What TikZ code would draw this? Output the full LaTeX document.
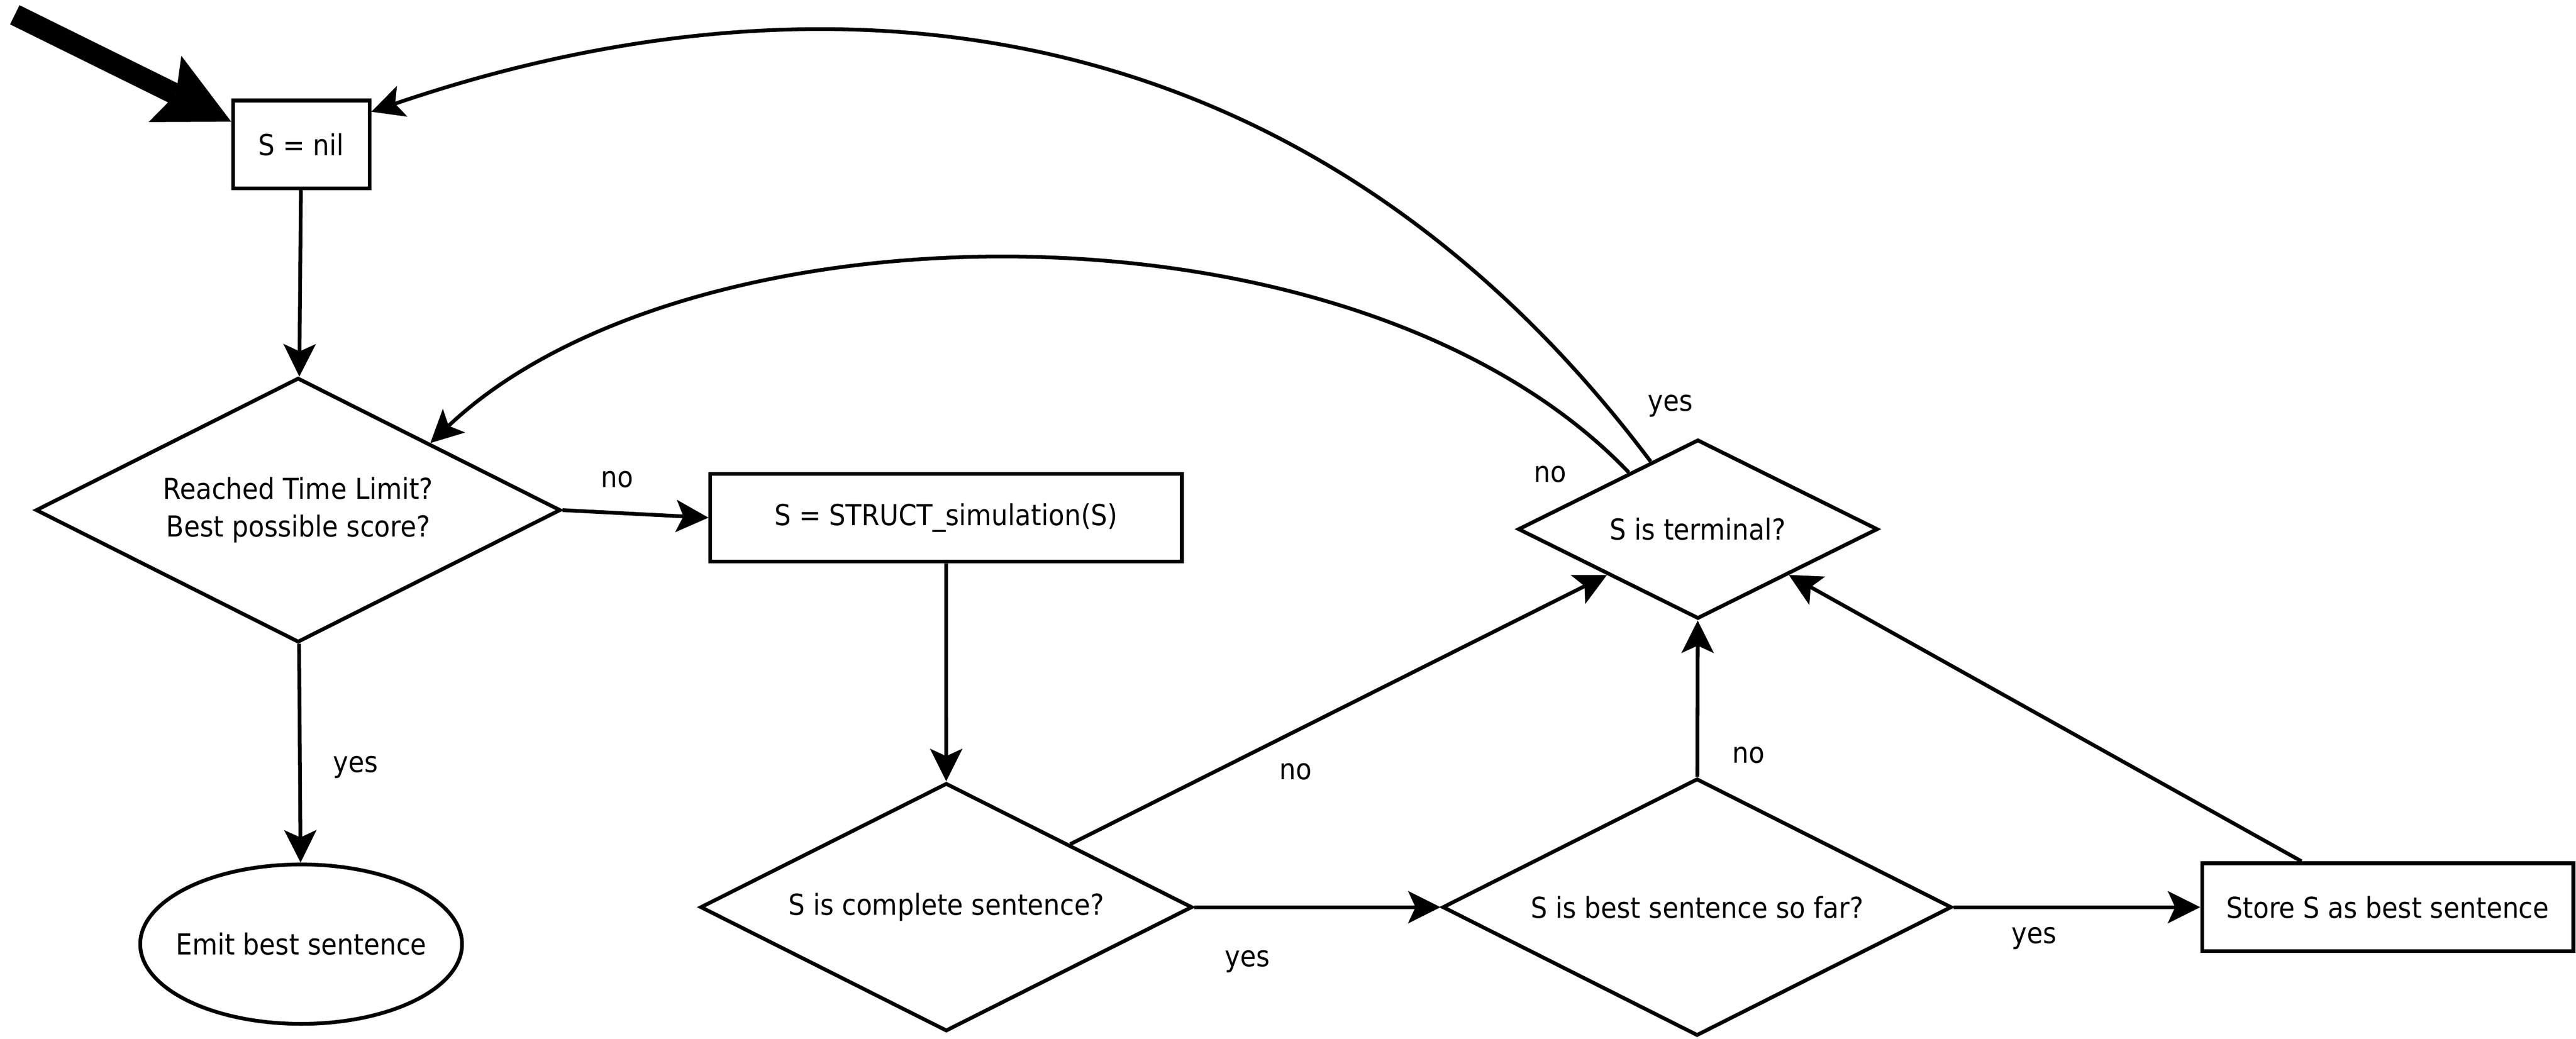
\documentclass[tikz,border=0pt]{standalone}
\usepackage{fontspec}
\setmainfont{DejaVu Sans Condensed}
\usetikzlibrary{shapes.geometric,arrows.meta,calc}

\tikzset{
  box/.style={draw, line width=1.3pt, rectangle, inner sep=0pt, minimum height=1.07cm},
  test/.style={draw, line width=1.3pt, diamond, aspect=2, inner sep=0pt, align=center},
  stop/.style={draw, line width=1.3pt, ellipse, inner xsep=-4pt, inner ysep=0pt},
  arr/.style={line width=1.3pt, -{Stealth[length=11.3pt,width=11.3pt,inset=2.6pt,line width=0pt]}},
  bigarr/.style={line width=7.4pt, -{Stealth[length=0.9cm,width=0.9cm,inset=0.15cm,line width=0pt]}},
}

\begin{document}
\begin{tikzpicture}[x=0.2mm,y=-0.2mm]
            \useasboundingbox (0,0) rectangle (1568,632);
            \node[box, minimum width=1.66cm] (nil) at (183.4,87.9) {S = nil};
            \node[test, minimum width=6.39cm, minimum height=3.22cm] (limit) at (181.5,310.4) {Reached Time Limit?\\[1pt]Best possible score?};
            \node[stop, minimum width=3.86cm, minimum height=1.94cm] (emit) at (183.3,574.5) {Emit best sentence};
            \node[box, minimum width=5.74cm] (sim) at (575.9,315) {S = STRUCT\_simulation(S)};
            \node[test, minimum width=5.99cm, minimum height=3.02cm] (complete) at (576,552) {S is complete sentence?};
            \node[test, minimum width=6.20cm, minimum height=3.13cm] (best) at (1033,552) {S is best sentence so far?};
            \node[box, minimum width=4.52cm] (store) at (1453.4,552) {Store S as best sentence};
            \node[test, minimum width=4.38cm, minimum height=2.18cm] (term) at (1033.5,322) {S is terminal?};
            % entry
            \coordinate (entry) at (9,9);
            \draw[bigarr] (entry) -- (nil.162);
            \draw[arr] (nil) -- (limit);
            \draw[arr] (limit.east) -- (sim.west);
            \draw[arr] (limit) -- (emit);
            \draw[arr] (sim) -- (complete);
            \draw[arr] (complete.east) -- (best.west);
            \draw[arr] (best.east) -- (store.west);
            \draw[arr] (best) -- (term);
            \draw[arr] (complete.north east) -- (term.south west);
            \draw[arr] (store.152) -- (term.south east);
            % loops back
            \coordinate (yesout) at ($(term.west)!0.74!(term.north)$);
            \coordinate (noout) at ($(term.west)!0.62!(term.north)$);
            \draw[arr] (yesout) .. controls (794,1) and (502,-26) .. (nil.25);
            \draw[arr] (noout) .. controls (825.6,114.2) and (420.3,120.2) .. (limit.north east);
            % labels
            \node (lno1) at (375.8,291.6) {no};
            \node (lyes1) at (216.4,466.8) {yes};
            \node (lyes2) at (759.3,585) {yes};
            \node (lyes3) at (1238,571) {yes};
            \node (lno2) at (788.8,469.6) {no};
            \node (lno3) at (1064.2,459.6) {no};
            \node (lyes4) at (1016.8,246.9) {yes};
            \node (lno4) at (943.5,288.7) {no};
        \end{tikzpicture}
\end{document}
